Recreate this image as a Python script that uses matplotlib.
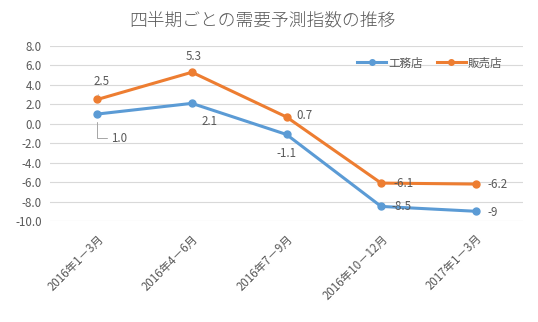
import matplotlib
matplotlib.use("Agg")
import matplotlib.pyplot as plt

plt.rcParams['font.family'] = ['Noto Sans CJK JP', 'DejaVu Sans']

quarters = ['2016年1－3月', '2016年4－6月', '2016年7－9月', '2016年10－12月', '2017年1－3月']
koumuten = [1.0, 2.1, -1.1, -8.5, -9]
hanbaiten = [2.5, 5.3, 0.7, -6.1, -6.2]
koumuten_labels = ['1.0', '2.1', '-1.1', '-8.5', '-9']
hanbaiten_labels = ['2.5', '5.3', '0.7', '-6.1', '-6.2']
yticks = [8.0, 6.0, 4.0, 2.0, 0.0, -2.0, -4.0, -6.0, -8.0, -10.0]

blue = '#5B9BD5'
orange = '#ED7D31'
txt = '#595959'
fs = 8.3

fig = plt.figure(figsize=(5.38, 3.22), dpi=100)
ax = fig.add_axes([50 / 538, 1 - 221 / 322, 473 / 538, 175 / 322])

x = range(len(quarters))
ax.plot(x, koumuten, '-o', color=blue, lw=2.2, ms=5, label='工務店', zorder=3)
ax.plot(x, hanbaiten, '-o', color=orange, lw=2.2, ms=5, label='販売店', zorder=3)

ax.set_xlim(-0.5, len(quarters) - 0.5)
ax.set_ylim(-10, 8)
ax.set_yticks(yticks)
ax.set_yticklabels([f'{v:.1f}' for v in yticks], fontsize=fs, color=txt)
ax.set_xticks(list(x))
ax.set_xticklabels(quarters, fontsize=fs, color=txt, rotation=45,
                   ha='right', rotation_mode='anchor')
ax.tick_params(length=0, pad=6)
ax.tick_params(axis='x', pad=8)
ax.grid(axis='y', color='#D9D9D9', lw=0.8)
ax.set_axisbelow(True)
for s in ax.spines.values():
    s.set_visible(False)

# label offsets in pixels (dx, dy) relative to the point
k_off = [(14, -24), (10, -18), (0, -19), (10, 0), (12, -1)]
h_off = [(4, 18), (2, 16), (10, 1), (12, 0), (12, 0)]
k_ha = ['left', 'left', 'center', 'left', 'left']
h_ha = ['center', 'center', 'left', 'left', 'left']

for i, (v, lab) in enumerate(zip(koumuten, koumuten_labels)):
    if i == 0:
        ax.annotate(lab, (i, v), xytext=k_off[i], textcoords='offset pixels',
                    ha='left', va='center', fontsize=fs, color=txt,
                    arrowprops=dict(arrowstyle='-', color='#A6A6A6', lw=0.7,
                                    shrinkA=1, shrinkB=6,
                                    connectionstyle='angle,angleA=0,angleB=90,rad=0'))
    else:
        ax.annotate(lab, (i, v), xytext=k_off[i], textcoords='offset pixels',
                    ha=k_ha[i], va='center', fontsize=fs, color=txt)

for i, (v, lab) in enumerate(zip(hanbaiten, hanbaiten_labels)):
    if i == 0:
        ax.annotate(lab, (i, v), xytext=h_off[i], textcoords='offset pixels',
                    ha='center', va='center', fontsize=fs, color=txt,
                    arrowprops=dict(arrowstyle='-', color='#A6A6A6', lw=0.7,
                                    shrinkA=3, shrinkB=3))
    else:
        ax.annotate(lab, (i, v), xytext=h_off[i], textcoords='offset pixels',
                    ha=h_ha[i], va='center', fontsize=fs, color=txt)

ax.legend(loc='center', bbox_to_anchor=(430 / 538, 1 - 63 / 322),
          bbox_transform=fig.transFigure, ncol=2, frameon=False,
          fontsize=fs, labelcolor=txt, handlelength=2.5, handletextpad=0.2,
          columnspacing=1.2, markerscale=0.8)

fig.text(262 / 538, 1 - 20 / 322, '四半期ごとの需要予測指数の推移',
         ha='center', va='center', fontsize=12.8, color=txt, fontweight='light')

fig.savefig('out.png', dpi=100)
